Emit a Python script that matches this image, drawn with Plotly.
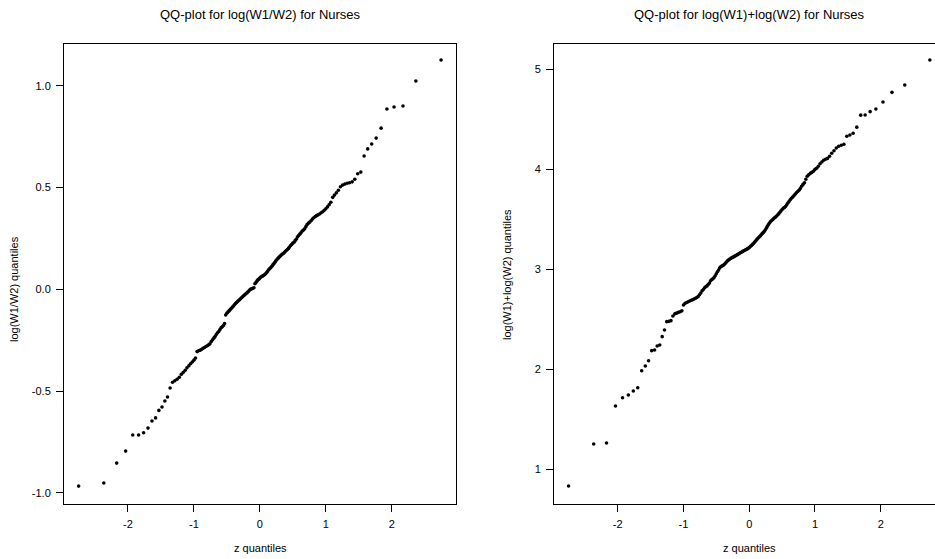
import plotly.graph_objects as go

# Theoretical normal quantiles (plotting positions (i-0.5)/167), n = 167
z_quantiles = [
    -2.748, -2.366, -2.171, -2.035, -1.927, -1.839, -1.763, -1.696, -1.636, -1.581,
    -1.531, -1.484, -1.440, -1.400, -1.361, -1.324, -1.289, -1.255, -1.222, -1.191,
    -1.161, -1.132, -1.105, -1.077, -1.051, -1.025, -1.000, -0.976, -0.952, -0.929,
    -0.905, -0.882, -0.861, -0.840, -0.818, -0.797, -0.777, -0.757, -0.737, -0.717,
    -0.698, -0.679, -0.661, -0.642, -0.624, -0.605, -0.588, -0.570, -0.552, -0.535,
    -0.518, -0.501, -0.484, -0.467, -0.450, -0.434, -0.417, -0.401, -0.385, -0.369,
    -0.353, -0.337, -0.321, -0.305, -0.290, -0.274, -0.259, -0.243, -0.228, -0.213,
    -0.197, -0.182, -0.167, -0.151, -0.136, -0.121, -0.106, -0.090, -0.075, -0.060,
    -0.045, -0.030, -0.015, 0.000, 0.015, 0.030, 0.045, 0.060, 0.075, 0.090,
    0.106, 0.121, 0.136, 0.151, 0.167, 0.182, 0.197, 0.213, 0.228, 0.243,
    0.259, 0.274, 0.290, 0.305, 0.321, 0.337, 0.353, 0.369, 0.385, 0.401,
    0.417, 0.434, 0.450, 0.467, 0.484, 0.501, 0.518, 0.535, 0.552, 0.570,
    0.588, 0.605, 0.624, 0.642, 0.661, 0.679, 0.698, 0.717, 0.737, 0.757,
    0.777, 0.797, 0.818, 0.840, 0.861, 0.882, 0.905, 0.929, 0.952, 0.976,
    1.000, 1.025, 1.051, 1.077, 1.105, 1.132, 1.161, 1.191, 1.222, 1.255,
    1.289, 1.324, 1.361, 1.400, 1.440, 1.484, 1.531, 1.581, 1.636, 1.696,
    1.763, 1.839, 1.927, 2.035, 2.171, 2.366, 2.748,
]

# Sorted sample quantiles of log(W1/W2)
log_ratio_q = [
    -0.967, -0.952, -0.854, -0.795, -0.716, -0.716, -0.705, -0.682, -0.647, -0.632,
    -0.595, -0.578, -0.549, -0.529, -0.485, -0.457, -0.449, -0.442, -0.432, -0.418,
    -0.408, -0.398, -0.386, -0.376, -0.366, -0.357, -0.348, -0.338, -0.306, -0.302,
    -0.299, -0.295, -0.290, -0.286, -0.281, -0.277, -0.273, -0.268, -0.257, -0.248,
    -0.240, -0.232, -0.222, -0.214, -0.207, -0.198, -0.189, -0.184, -0.178, -0.168,
    -0.126, -0.118, -0.112, -0.106, -0.100, -0.094, -0.088, -0.082, -0.076, -0.070,
    -0.065, -0.060, -0.055, -0.050, -0.045, -0.040, -0.035, -0.031, -0.027, -0.022,
    -0.018, -0.013, -0.008, -0.002, 0.001, 0.003, 0.005, 0.008, 0.027, 0.033,
    0.040, 0.047, 0.050, 0.055, 0.060, 0.063, 0.066, 0.069, 0.073, 0.078,
    0.084, 0.090, 0.097, 0.102, 0.107, 0.113, 0.120, 0.126, 0.133, 0.140,
    0.146, 0.152, 0.157, 0.162, 0.167, 0.172, 0.176, 0.180, 0.186, 0.191,
    0.196, 0.201, 0.208, 0.215, 0.221, 0.227, 0.231, 0.239, 0.246, 0.257,
    0.264, 0.271, 0.278, 0.286, 0.291, 0.297, 0.308, 0.318, 0.325, 0.331,
    0.337, 0.345, 0.352, 0.358, 0.362, 0.366, 0.370, 0.376, 0.381, 0.388,
    0.396, 0.405, 0.416, 0.428, 0.452, 0.463, 0.474, 0.487, 0.504, 0.512,
    0.517, 0.521, 0.524, 0.528, 0.541, 0.568, 0.576, 0.655, 0.690, 0.714,
    0.743, 0.792, 0.886, 0.896, 0.901, 1.024, 1.127,
]

# Sorted sample quantiles of log(W1)+log(W2)
log_sum_q = [
    0.835, 1.255, 1.265, 1.634, 1.717, 1.744, 1.784, 1.817, 1.987, 2.034,
    2.087, 2.187, 2.194, 2.234, 2.244, 2.327, 2.394, 2.477, 2.480, 2.487,
    2.533, 2.555, 2.562, 2.570, 2.576, 2.585, 2.643, 2.660, 2.668, 2.676,
    2.683, 2.690, 2.695, 2.703, 2.710, 2.718, 2.728, 2.745, 2.762, 2.785,
    2.798, 2.815, 2.826, 2.834, 2.848, 2.862, 2.886, 2.897, 2.906, 2.918,
    2.935, 2.955, 2.975, 2.992, 3.012, 3.025, 3.032, 3.038, 3.045, 3.055,
    3.068, 3.080, 3.090, 3.098, 3.105, 3.112, 3.118, 3.122, 3.128, 3.134,
    3.140, 3.146, 3.152, 3.158, 3.165, 3.170, 3.176, 3.182, 3.188, 3.193,
    3.198, 3.204, 3.210, 3.218, 3.228, 3.236, 3.245, 3.255, 3.265, 3.278,
    3.290, 3.302, 3.312, 3.322, 3.333, 3.345, 3.356, 3.366, 3.378, 3.392,
    3.410, 3.428, 3.445, 3.460, 3.475, 3.485, 3.495, 3.505, 3.515, 3.523,
    3.532, 3.545, 3.556, 3.570, 3.585, 3.598, 3.610, 3.618, 3.628, 3.645,
    3.662, 3.678, 3.695, 3.710, 3.722, 3.735, 3.750, 3.765, 3.778, 3.790,
    3.808, 3.830, 3.848, 3.865, 3.900, 3.930, 3.945, 3.958, 3.968, 3.980,
    3.998, 4.010, 4.030, 4.055, 4.072, 4.090, 4.100, 4.108, 4.130, 4.160,
    4.185, 4.212, 4.230, 4.240, 4.249, 4.330, 4.342, 4.360, 4.420, 4.540,
    4.541, 4.575, 4.601, 4.671, 4.768, 4.841, 5.091,
]

x_tickvals = [-2, -1, 0, 1, 2]
x_ticktext = ["-2", "-1", "0", "1", "2"]
left_y_tickvals = [-1.0, -0.5, 0.0, 0.5, 1.0]
left_y_ticktext = ["-1.0", "-0.5", "0.0", "0.5", "1.0"]
right_y_tickvals = [1, 2, 3, 4, 5]
right_y_ticktext = ["1", "2", "3", "4", "5"]

title_left = "QQ-plot for log(W1/W2) for Nurses"
title_right = "QQ-plot for log(W1)+log(W2) for Nurses"
ylab_left = "log(W1/W2) quantiles"
ylab_right = "log(W1)+log(W2) quantiles"
xlab = "z quantiles"

FONT = "Liberation Sans, Arial, Helvetica, sans-serif"
W, H = 935, 559


def px_x(p):
    return p / W


def px_y(p):
    return 1 - p / H


fig = go.Figure()
marker = dict(color="black", size=3.6, line=dict(width=0))
fig.add_trace(go.Scatter(x=z_quantiles, y=log_ratio_q, mode="markers",
                         marker=marker, xaxis="x", yaxis="y", showlegend=False,
                         hoverinfo="skip"))
fig.add_trace(go.Scatter(x=z_quantiles, y=log_sum_q, mode="markers",
                         marker=marker, xaxis="x2", yaxis="y2", showlegend=False,
                         cliponaxis=False, hoverinfo="skip"))

ydom = [px_y(504), px_y(44.3)]
axis_common = dict(showgrid=False, zeroline=False, showline=True, linecolor="black",
                   linewidth=1, ticks="outside", ticklen=7, tickcolor="black",
                   tickwidth=1, tickfont=dict(family=FONT, size=11, color="black"),
                   ticklabelstandoff=3)

fig.update_layout(
    width=W, height=H,
    margin=dict(l=0, r=0, t=0, b=0),
    paper_bgcolor="white", plot_bgcolor="white",
    font=dict(family=FONT, color="black"),
    hovermode=False,
    xaxis=dict(domain=[px_x(64), px_x(455.7)], range=[-2.97, 2.97], anchor="y",
               tickvals=x_tickvals, ticktext=x_ticktext, mirror=True, **axis_common),
    yaxis=dict(domain=ydom, range=[-1.055, 1.204], anchor="x",
               tickvals=left_y_tickvals, ticktext=left_y_ticktext, mirror=True,
               **axis_common),
    xaxis2=dict(domain=[px_x(554), 1.0], range=[-2.97, 2.826], anchor="y2",
                tickvals=x_tickvals, ticktext=x_ticktext, mirror=True, **axis_common),
    yaxis2=dict(domain=ydom, range=[0.655, 5.248], anchor="x2",
                tickvals=right_y_tickvals, ticktext=right_y_ticktext, mirror=False,
                **axis_common),
)


def ann(text, x, y, size, angle=0):
    fig.add_annotation(text=text, x=px_x(x), y=px_y(y), xref="paper", yref="paper",
                       showarrow=False, textangle=angle, xanchor="center",
                       yanchor="middle", font=dict(family=FONT, size=size, color="black"))


ann(title_left, 260, 14, 13)
ann(title_right, 749, 14, 13)
ann(xlab, 260, 548, 11)
ann(xlab, 749, 548, 11)
ann(ylab_left, 14, 289, 11, -90)
ann(ylab_right, 507, 275, 11, -90)

fig.write_html(
    "out.html",
    config={"displayModeBar": False, "staticPlot": True},
    post_script="document.body.style.margin='0';document.body.style.overflow='hidden';",
)
